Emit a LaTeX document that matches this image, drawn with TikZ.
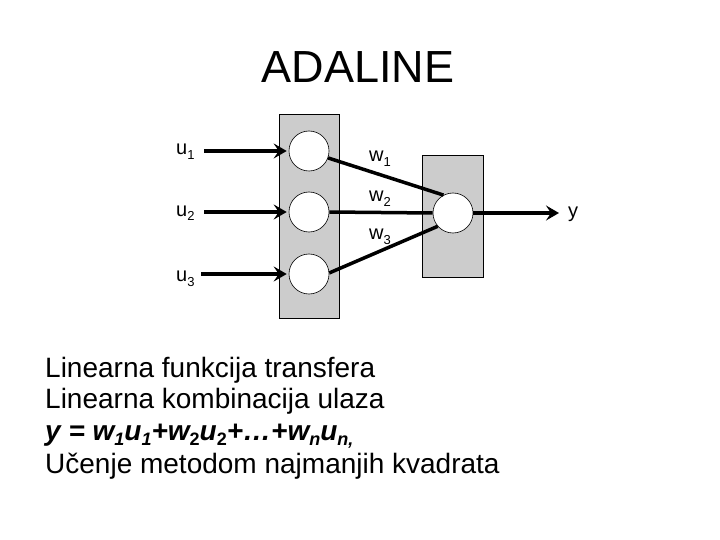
\documentclass[tikz,border=0pt]{standalone}
\usepackage{fontspec}
\setmainfont{Liberation Sans}
\usetikzlibrary{arrows.meta}
\newcommand{\lsub}[2][13]{\raisebox{-5pt}{\fontsize{#1}{#1}\selectfont #2}}
\begin{document}
\begin{tikzpicture}[x=1pt,y=-1pt,
  layerbox/.style={draw=black,line width=0.8pt,fill=black!20},
  neuron/.style={circle,draw=black,line width=0.6pt,fill=white,minimum size=40pt,inner sep=0pt},
  conn/.style={line width=3.5pt},
  inarrow/.style={line width=3.5pt,-{Stealth[length=13pt,width=15pt,inset=5pt]},shorten >=2pt},
  lbl/.style={anchor=base west,inner sep=0pt,font=\fontsize{20}{20}\selectfont},
  txt/.style={anchor=base west,inner sep=0pt,font=\fontsize{28}{28}\selectfont}]
\useasboundingbox (0,0) rectangle (720,540);
\fill[white] (0,0) rectangle (720,540);
\node[anchor=base,inner sep=0pt,font=\fontsize{45}{45}\selectfont] (title) at (358,83) {ADALINE};
\draw[layerbox] (279,114) rectangle (339,318);
\draw[layerbox] (422,155) rectangle (483,277);
\node[neuron] (c1) at (309,151) {};
\node[neuron] (c2) at (309,212) {};
\node[neuron] (c3) at (309,274) {};
\node[neuron] (o) at (453,213) {};
\coordinate (i1) at (204,151);
\coordinate (i2) at (204,212);
\coordinate (i3) at (201,274);
\coordinate (yo) at (559,213);
\draw[inarrow] (i1) -- (c1.west);
\draw[inarrow] (i2) -- (c2.west);
\draw[inarrow] (i3) -- (c3.west);
\draw[inarrow,shorten >=0pt] (o.east) -- (yo);
\draw[conn] (c1.-20) -- (o.118);
\draw[conn] (c2.east) -- (o.west);
\draw[conn] (c3.3) -- (o.221);
\node[lbl] (u1) at (176,155) {u\lsub{1}};
\node[lbl] (u2) at (176,216) {u\lsub{2}};
\node[lbl] (u3) at (176,281) {u\lsub{3}};
\node[lbl] (w1) at (369,162) {w\lsub{1}};
\node[lbl] (w2) at (369,202) {w\lsub{2}};
\node[lbl] (w3) at (369,240) {w\lsub{3}};
\node[lbl] (y) at (568,218) {y};
\node[txt] (t1) at (45,377) {Linearna funkcija transfera};
\node[txt] (t2) at (45,408) {Linearna kombinacija ulaza};
\node[txt] (t3) at (45,440) {\bfseries\itshape y = w\lsub[18]{1}u\lsub[18]{1}+w\lsub[18]{\upshape 2}u\lsub[18]{\upshape 2}+…+w\lsub[18]{n}u\lsub[18]{n,}};
\node[txt] (t4) at (45,473) {Učenje metodom najmanjih kvadrata};
\end{tikzpicture}
\end{document}
